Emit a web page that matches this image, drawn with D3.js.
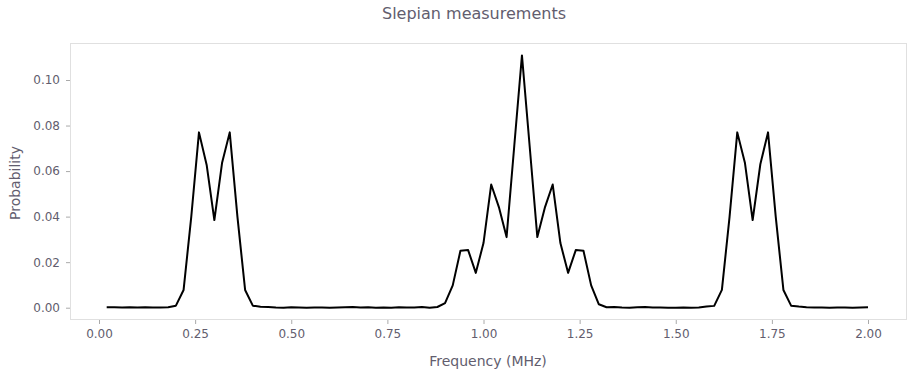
<!DOCTYPE html>
<html><head><meta charset="utf-8">
<script src="https://cdn.jsdelivr.net/npm/d3@7"></script>
<style>body{margin:0;background:#fff;} text{font-family:"DejaVu Sans",sans-serif;}</style>
</head><body>
<svg id="c" width="913" height="376"></svg>
<script>
const title = "Slepian measurements";
const xLabel = "Frequency (MHz)";
const yLabel = "Probability";
const frequencies = d3.range(1, 101).map(i => +(i * 0.02).toFixed(2));
const probabilities = [
  0.0002, 0.0002, 0.0001, 0.0002, 0.0001, 0.0002, 0.0001, 0.0001, 0.0002, 0.0009,
  0.0078, 0.0400, 0.0770, 0.0627, 0.0385, 0.0635, 0.0770, 0.0400, 0.0078, 0.0009,
  0.0004, 0.0003, 0.0001, 0.0000, 0.0002, 0.0001, 0.0000, 0.0001, 0.0001, 0.0000,
  0.0001, 0.0002, 0.0003, 0.0001, 0.0002, 0.0000, 0.0001, 0.0000, 0.0002, 0.0001,
  0.0001, 0.0003, 0.0000, 0.0003, 0.0020, 0.0098, 0.0250, 0.0253, 0.0153, 0.0284,
  0.0541, 0.0442, 0.0310, 0.0710, 0.1108, 0.0710, 0.0310, 0.0442, 0.0541, 0.0284,
  0.0153, 0.0253, 0.0250, 0.0098, 0.0015, 0.0002, 0.0003, 0.0001, 0.0000, 0.0002,
  0.0003, 0.0001, 0.0001, 0.0000, 0.0000, 0.0001, 0.0000, 0.0001, 0.0005, 0.0008,
  0.0078, 0.0400, 0.0770, 0.0635, 0.0385, 0.0630, 0.0770, 0.0400, 0.0078, 0.0009,
  0.0005, 0.0002, 0.0001, 0.0001, 0.0000, 0.0001, 0.0001, 0.0000, 0.0001, 0.0002
];
const xTicks = [0, 0.25, 0.5, 0.75, 1.0, 1.25, 1.5, 1.75, 2.0];
const yTicks = [0, 0.02, 0.04, 0.06, 0.08, 0.10];

const svg = d3.select("#c");
const L = 70, R = 907, T = 43, B = 320;
const x = d3.scaleLinear().domain([0, 2]).range([99, 868]);
const y = d3.scaleLinear().domain([0, 0.1]).range([307.7, 80]);
const gray = "#625d6e";

svg.append("rect").attr("x", L + 0.5).attr("y", T + 0.5).attr("width", R - L - 1).attr("height", B - T - 1)
  .attr("fill", "#fff").attr("stroke", "#e0e0e0").attr("stroke-width", 1);

const xa = svg.append("g").attr("transform", `translate(0,${B})`)
  .call(d3.axisBottom(x).tickValues(xTicks).tickFormat(d3.format(".2f")).tickSize(4).tickPadding(5));
const ya = svg.append("g").attr("transform", `translate(${L},0)`)
  .call(d3.axisLeft(y).tickValues(yTicks).tickFormat(d3.format(".2f")).tickSize(4).tickPadding(6));
[xa, ya].forEach(a => {
  a.select(".domain").remove();
  a.selectAll(".tick line").attr("stroke", "#aaa");
  a.selectAll(".tick text").attr("fill", gray).style("font-size", "12px").style("font-family", "DejaVu Sans");
});

const line = d3.line().x((d, i) => x(frequencies[i])).y(d => y(d));
svg.append("path").datum(probabilities).attr("d", line)
  .attr("fill", "none").attr("stroke", "#000").attr("stroke-width", 2).attr("stroke-linejoin", "round");

svg.append("text").attr("x", 474).attr("y", 19).attr("text-anchor", "middle")
  .attr("fill", gray).style("font-size", "16px").text(title);
svg.append("text").attr("x", 488).attr("y", 366).attr("text-anchor", "middle")
  .attr("fill", gray).style("font-size", "14px").text(xLabel);
svg.append("text").attr("transform", "translate(20,183) rotate(-90)").attr("text-anchor", "middle")
  .attr("fill", gray).style("font-size", "14px").text(yLabel);
</script>
</body></html>
